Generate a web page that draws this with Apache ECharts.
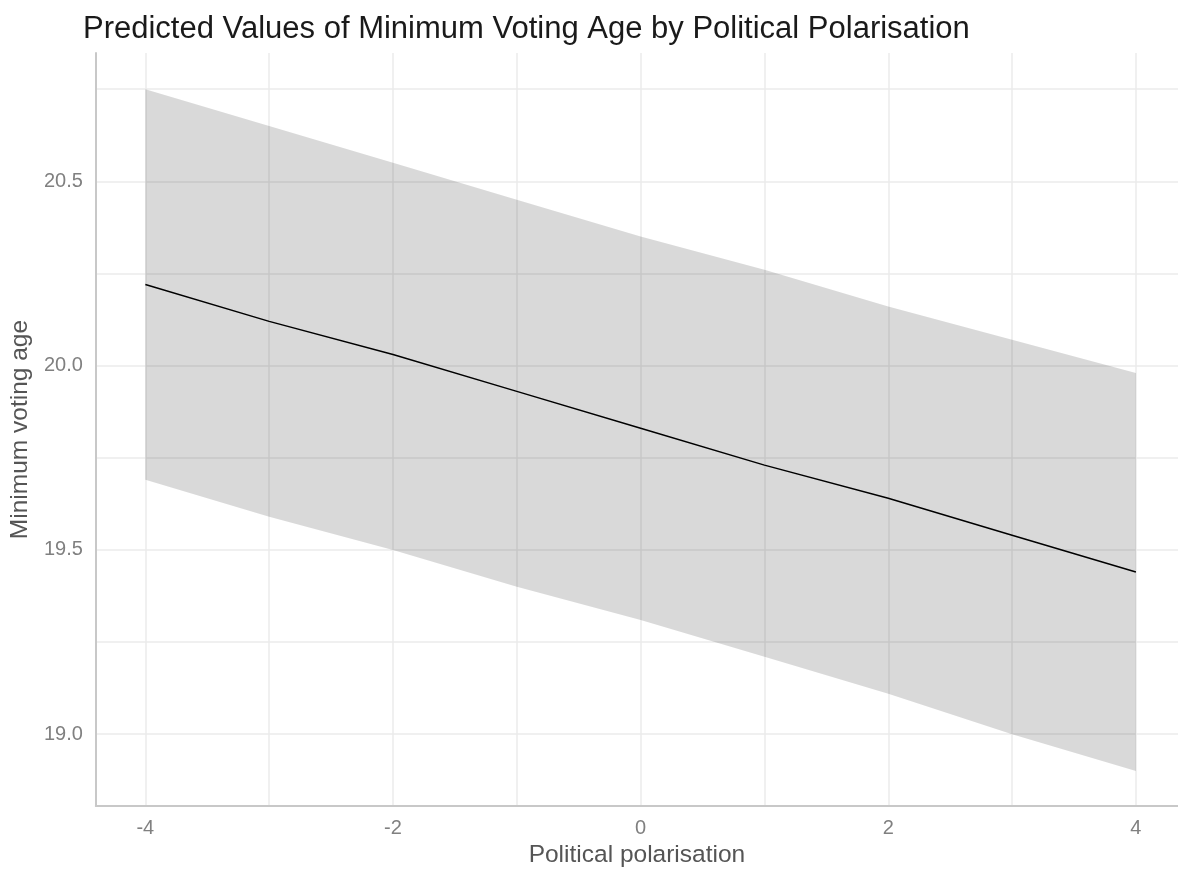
<!DOCTYPE html>
<html>
<head>
<meta charset="utf-8">
<script src="https://cdn.jsdelivr.net/npm/echarts@6/dist/echarts.min.js"></script>
<style>
  html, body { margin: 0; padding: 0; background: #fff; }
  #panel { width: 1178px; height: 873px; }
</style>
</head>
<body>
<div id="panel"></div>
<script>
// predicted values
const polarisation = [-4, -3, -2, -1, 0, 1, 2, 3, 4];
const predicted = [20.22, 20.12, 20.03, 19.93, 19.83, 19.73, 19.64, 19.54, 19.44];
const upperCI = [20.75, 20.65, 20.55, 20.45, 20.35, 20.26, 20.16, 20.07, 19.98];
const lowerCI = [19.69, 19.59, 19.50, 19.40, 19.31, 19.21, 19.11, 19.00, 18.90];

const xLabelTicks = [-4, -2, 0, 2, 4];
const xGridTicks = [-4, -3, -2, -1, 0, 1, 2, 3, 4];
const yLabelTicks = [19.0, 19.5, 20.0, 20.5];
const yGridTicks = [19.0, 19.25, 19.5, 19.75, 20.0, 20.25, 20.5, 20.75];

const FONT = "'Liberation Sans', Arial, sans-serif";

const fitData = polarisation.map((x, i) => [x, predicted[i]]);

const myChart = echarts.init(document.getElementById('panel'));

// ribbon: one polygon, upper edge left->right then lower edge right->left
const renderBand = (params, api) => {
  const pts = [];
  polarisation.forEach((x, i) => pts.push(api.coord([x, upperCI[i]])));
  for (let i = polarisation.length - 1; i >= 0; i--) {
    pts.push(api.coord([polarisation[i], lowerCI[i]]));
  }
  return {
    type: 'polygon',
    shape: { points: pts },
    style: { fill: 'rgba(0,0,0,0.15)' },
  };
};

const option = {
  animation: false,
  backgroundColor: '#ffffff',
  title: {
    text: 'Predicted Values of Minimum Voting Age by Political Polarisation',
    left: 78,
    top: 9,
    textStyle: { fontFamily: FONT, fontSize: 31, fontWeight: 'normal', color: '#1a1a1a' },
  },
  grid: {
    left: 93,
    right: 0,
    top: 53,
    bottom: 64,
  },
  xAxis: {
    type: 'value',
    min: -4.4,
    max: 4.34,
    name: 'Political polarisation',
    nameLocation: 'middle',
    nameGap: 26,
    nameTextStyle: { fontFamily: FONT, fontSize: 24.5, color: '#555555' },
    axisLine: { show: true, onZero: false, lineStyle: { color: '#c8c8c8', width: 2 } },
    axisTick: { show: false, customValues: xGridTicks },
    axisLabel: {
      customValues: xLabelTicks,
      margin: 12,
      fontFamily: FONT,
      fontSize: 20,
      color: '#808080',
    },
    splitLine: { show: true, lineStyle: { color: '#ebebeb', width: 1.5 } },
  },
  yAxis: {
    type: 'value',
    min: 18.805,
    max: 20.848,
    name: 'Minimum voting age',
    nameLocation: 'middle',
    nameGap: 56,
    nameTextStyle: { fontFamily: FONT, fontSize: 24.5, color: '#555555' },
    axisLine: { show: true, onZero: false, lineStyle: { color: '#c8c8c8', width: 2 } },
    axisTick: { show: false, customValues: yGridTicks },
    axisLabel: {
      customValues: yLabelTicks,
      margin: 13,
      fontFamily: FONT,
      fontSize: 20,
      color: '#808080',
      formatter: (v) => v.toFixed(1),
    },
    splitLine: { show: true, lineStyle: { color: '#ebebeb', width: 1.5 } },
  },
  series: [
    {
      name: 'ci',
      type: 'custom',
      data: [0],
      renderItem: renderBand,
      silent: true,
      clip: true,
      z: 2,
    },
    {
      name: 'predicted',
      type: 'line',
      data: fitData,
      symbol: 'none',
      lineStyle: { color: '#000000', width: 1.5 },
      z: 5,
    },
  ],
};
myChart.setOption(option);
</script>
</body>
</html>
